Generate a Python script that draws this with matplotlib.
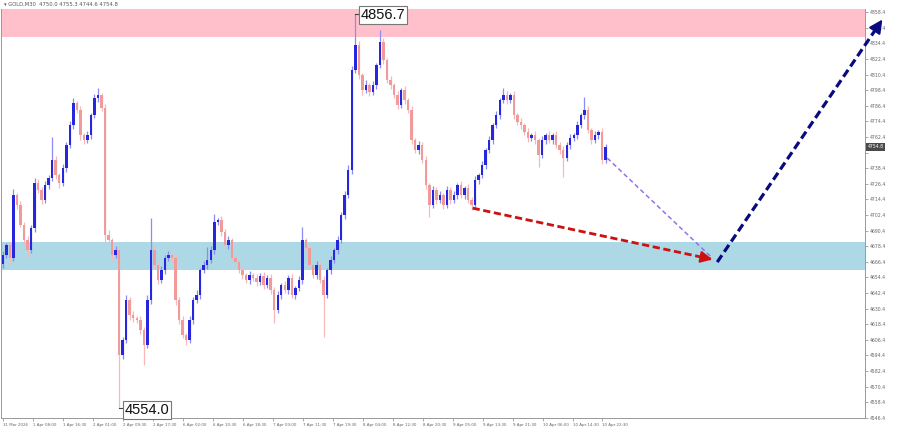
import numpy as np
import matplotlib
matplotlib.use("Agg")
import matplotlib.pyplot as plt

# hourly-ish candles (GOLD M30 chart, 31 Mar - 10 Apr 2026)
open_first = 4665.0
closes = [
    4671.6, 4679.0, 4669.0, 4717.7, 4710.0, 4695.0, 4683.0, 4675.4, 4692.4, 4727.0,
    4721.6, 4714.0, 4725.4, 4730.8, 4744.6, 4733.0, 4727.0, 4738.5, 4756.2, 4771.5,
    4788.4, 4783.0, 4763.8, 4760.0, 4763.8, 4779.2, 4792.3, 4794.6, 4784.6, 4687.0,
    4683.0, 4671.6, 4675.4, 4594.8, 4606.3, 4637.0, 4625.5, 4623.0, 4621.6, 4614.0,
    4602.4, 4637.0, 4675.4, 4664.0, 4652.4, 4660.0, 4669.3, 4671.6, 4669.0, 4637.0,
    4621.6, 4610.0, 4606.3, 4621.6, 4637.0, 4640.8, 4660.0, 4664.0, 4667.8, 4675.4,
    4697.0, 4698.5, 4689.3, 4679.3, 4683.0, 4669.3, 4666.2, 4660.0, 4656.2, 4652.4,
    4656.2, 4654.0, 4650.9, 4655.5, 4648.5, 4654.0, 4644.7, 4629.3, 4640.8, 4648.5,
    4644.7, 4654.0, 4640.8, 4646.2, 4652.4, 4683.0, 4677.0, 4664.0, 4656.2, 4664.0,
    4652.4, 4640.8, 4660.0, 4667.8, 4675.4, 4683.0, 4702.4, 4717.7, 4737.0, 4813.8,
    4833.0, 4810.0, 4798.4, 4802.3, 4796.9, 4802.3, 4817.6, 4835.3, 4821.5, 4806.1,
    4802.3, 4794.6, 4786.9, 4798.4, 4790.7, 4783.0, 4760.0, 4752.3, 4756.2, 4744.6,
    4725.4, 4710.0, 4721.6, 4714.0, 4717.7, 4710.0, 4721.6, 4714.0, 4717.7, 4725.4,
    4717.7, 4723.0, 4714.0, 4710.0, 4729.3, 4733.0, 4740.8, 4752.3, 4760.0, 4771.5,
    4779.2, 4790.7, 4794.6, 4790.7, 4794.6, 4779.2, 4773.9, 4771.5, 4766.1, 4761.5,
    4763.8, 4760.0, 4748.5, 4760.0, 4763.8, 4760.0, 4763.8, 4756.2, 4752.3, 4746.2,
    4756.2, 4761.5, 4763.8, 4771.5, 4779.2, 4783.0, 4767.7, 4760.0, 4763.8, 4766.1,
    4744.6, 4754.8,
]
wick_up = [
    3, 2, 3, 5, 2, 3, 2, 3, 2, 4,
    3, 2, 3, 2, 17.7, 3, 2, 3, 2, 3,
    4, 2, 3, 2, 3, 2, 3, 5.4, 2, 3,
    4, 2, 3, 3, 2, 4, 2, 3, 2, 3,
    2, 4, 24.6, 3, 2, 3, 2, 3, 2, 3,
    2, 3, 2, 3, 2, 4, 2, 3, 9.9, 3,
    6, 2, 3, 2, 3, 2, 3, 2, 3, 2,
    3, 2, 3, 2, 3, 2, 3, 2, 3, 2,
    3, 2, 3, 2, 3, 10, 2, 3, 2, 3,
    2, 3, 2, 3, 2, 3, 2, 3, 4, 3,
    23.7, 3, 2, 4, 2, 3, 2, 9.2, 3, 2,
    3, 2, 3, 2, 3, 2, 3, 2, 3, 2,
    3, 2, 3, 2, 3, 2, 3, 2, 3, 2,
    3, 2, 3, 2, 3, 2, 3, 2, 3, 2,
    3, 2, 5.4, 3, 2, 3, 2, 3, 2, 3,
    2, 3, 2, 3, 2, 3, 2, 3, 2, 3,
    2, 3, 2, 3, 2, 10, 3, 2, 3, 2,
    3, 2,
]
wick_dn = [
    3, 2, 4, 2, 3, 2, 3, 5, 2, 3,
    2, 3, 2, 3, 2, 3, 4, 2, 3, 2,
    3, 2, 4, 3, 2, 3, 2, 3, 2, 5,
    3, 4, 2, 40.8, 3, 2, 4, 3, 2, 3,
    15.4, 2, 3, 2, 3, 2, 3, 2, 3, 4,
    3, 2, 4, 2, 3, 2, 3, 2, 3, 2,
    3, 2, 3, 2, 3, 2, 3, 2, 3, 2,
    3, 2, 3, 2, 3, 2, 3, 10, 2, 3,
    2, 3, 2, 3, 2, 3, 2, 3, 2, 3,
    2, 32.2, 2, 3, 2, 3, 2, 3, 2, 3,
    2, 3, 4, 2, 3, 2, 3, 2, 3, 2,
    3, 2, 3, 2, 3, 2, 3, 2, 3, 2,
    3, 9.2, 2, 3, 2, 3, 2, 3, 2, 3,
    2, 3, 2, 4, 2, 3, 2, 3, 2, 3,
    2, 3, 2, 3, 2, 3, 2, 3, 2, 3,
    2, 3, 9.5, 2, 3, 2, 3, 2, 3, 14.6,
    2, 3, 2, 3, 2, 3, 2, 3, 2, 3,
    3, 2,
]

time_labels = ["31 Mar 2026", "1 Apr 08:00", "1 Apr 16:30", "2 Apr 01:00", "2 Apr 09:30",
               "2 Apr 17:30", "6 Apr 02:00", "6 Apr 10:30", "6 Apr 18:30", "7 Apr 03:00",
               "7 Apr 11:30", "7 Apr 19:30", "8 Apr 04:00", "8 Apr 12:30", "8 Apr 20:30",
               "9 Apr 05:00", "9 Apr 13:30", "9 Apr 21:30", "10 Apr 06:00", "10 Apr 14:30",
               "10 Apr 22:30"]
price_ticks = [4546.4 + 12 * i for i in range(27)]

resistance_zone = (4839.2, 4870.0)
support_zone = (4660.1, 4681.6)
high_point = (100, 4856.7)
low_point = (33, 4554.0)
# forecast arrows (candle index, price)
red_arrow = [(133.3, 4707.7), (202.1, 4667.8)]
purple_line = [(171.5, 4746.2), (201.3, 4669.3)]
navy_arrow = [(202.7, 4666.2), (250.0, 4854.5)]

closes = np.array(closes)
opens = np.concatenate([[open_first], closes[:-1]])
highs = np.maximum(opens, closes) + np.array(wick_up)
lows = np.minimum(opens, closes) - np.array(wick_dn)
idx = np.arange(len(closes))
bull = closes >= opens

fig = plt.figure(figsize=(9, 4.29), dpi=100)
ax = fig.add_axes([0.0015, 0.0256, 0.9595, 0.953])

ax.axhspan(*resistance_zone, color="#ffc0cb", zorder=0, lw=0)
ax.axhspan(*support_zone, color="#add8e6", zorder=0, lw=0)

ax.vlines(idx[bull], lows[bull], highs[bull], color="#8c8cf2", lw=0.9, zorder=2)
ax.vlines(idx[~bull], lows[~bull], highs[~bull], color="#f6b8b8", lw=0.9, zorder=2)
body_h = np.maximum(np.abs(closes - opens), 0.6)
body_b = np.minimum(opens, closes)
ax.bar(idx[bull], body_h[bull], bottom=body_b[bull], width=0.7, color="#2626dc", lw=0, zorder=3)
ax.bar(idx[~bull], body_h[~bull], bottom=body_b[~bull], width=0.7, color="#f09a9a", lw=0, zorder=3)

# forecast arrows
(x0, y0), (x1, y1) = red_arrow
ax.plot([x0, x1 - 1.2], [y0, y1 + 0.7], color="#cc1111", lw=2.0, ls=(0, (2.6, 1.3)), zorder=5)
ax.annotate("", xy=(x1, y1), xytext=(x1 - 3, y1 + 1.74),
            arrowprops=dict(arrowstyle="-|>,head_length=0.7,head_width=0.35", color="#cc1111", lw=1.5),
            zorder=6)

(x0, y0), (x1, y1) = purple_line
ax.plot([x0, x1], [y0, y1], color="#9b6fe8", lw=1.1, ls=(0, (3, 2)), zorder=5)

(x0, y0), (x1, y1) = navy_arrow
ax.plot([x0, x1 - 1.5], [y0, y1 - 6], color="#0a0a80", lw=2.3, ls=(0, (2.6, 1.3)), zorder=5, clip_on=False)
ax.annotate("", xy=(x1, y1), xytext=(x1 - 2, y1 - 8),
            arrowprops=dict(arrowstyle="-|>,head_length=0.8,head_width=0.4", color="#0a0a80", lw=1.5),
            zorder=6, annotation_clip=False)

# extreme labels
for (k, price), dy in [(high_point, -0.5), (low_point, -1.5)]:
    ax.plot([k, k + 1.3], [price, price], color="#444444", lw=0.8, zorder=6, clip_on=False)
    ax.text(k + 1.5, price + dy, f"{price:.1f}", fontsize=10.5, family="Liberation Sans",
            va="center", ha="left", color="#111111", zorder=7, clip_on=False,
            bbox=dict(boxstyle="square,pad=0.12", fc="white", ec="#777777", lw=0.8))

ax.set_xlim(-0.42, 244.6)
ax.set_ylim(4546.3, 4860.7)

# x axis: MT4 style labels to the right of each tick
ax.set_xticks([0.14 + 8.5 * j for j in range(len(time_labels))])
ax.set_xticklabels(time_labels, fontsize=2.9, color="#666666", ha="left")
ax.tick_params(axis="x", length=2, width=0.5, color="#888888", pad=1.8)

# price scale; the label hidden behind the current price box is left blank
ax.yaxis.tick_right()
ax.set_yticks(price_ticks)
ax.set_yticklabels(["" if abs(p - closes[-1]) < 6 else f"{p:.1f}" for p in price_ticks],
                   fontsize=3.3, color="#666666")
ax.tick_params(axis="y", length=2, width=0.5, color="#888888", pad=1.5)

# current price box
ax.text(1.003, (closes[-1] - 4546.3) / (4860.7 - 4546.3), f"{closes[-1]:.1f}", transform=ax.transAxes,
        fontsize=3.3, color="white", va="center", ha="left",
        bbox=dict(boxstyle="square,pad=0.25", fc="#4a4a4a", ec="none"))

for side in ["left", "bottom", "right"]:
    ax.spines[side].set_color("#999999")
    ax.spines[side].set_linewidth(0.7)
ax.spines["top"].set_visible(False)

fig.text(0.004, 0.989, "\u25be GOLD,M30  4750.0 4755.3 4744.6 4754.8", fontsize=3.8,
         color="#555555", va="center", ha="left")

fig.savefig("out.png", dpi=100, facecolor="white")
